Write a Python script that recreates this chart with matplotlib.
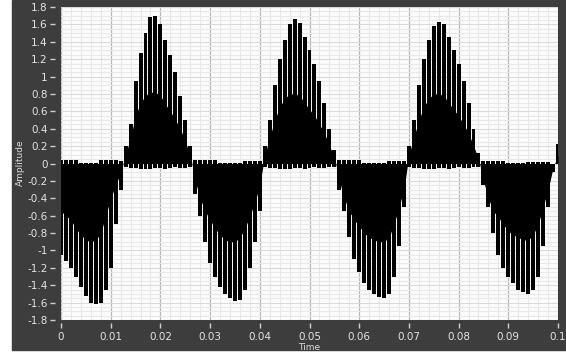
import numpy as np
import matplotlib
matplotlib.use("Agg")
import matplotlib.pyplot as plt
from matplotlib.patches import Rectangle
from matplotlib.ticker import MultipleLocator

# ==============================================================
# Data: one value per carrier cycle (1 ms)
# tip  = end of each spike, core = edge of the solid black body,
# rim  = small overshoot on the other side of zero
# ==============================================================
tip = [
    -1.05, -1.12, -1.2, -1.3, -1.42, -1.52, -1.6, -1.62, -1.6, -1.45, -1.2, -0.7, -0.3,
    0.2, 0.45, 0.95, 1.27, 1.5, 1.68, 1.7, 1.6, 1.42, 1.25, 1.05, 0.78, 0.5, 0.2,
    -0.35, -0.6, -0.9, -1.15, -1.3, -1.42, -1.5, -1.55, -1.58, -1.57, -1.45, -1.2, -0.9, -0.55,
    0.2, 0.5, 0.9, 1.2, 1.42, 1.6, 1.66, 1.62, 1.45, 1.3, 1.15, 0.95, 0.7, 0.4, 0.15,
    -0.3, -0.55, -0.85, -1.1, -1.25, -1.38, -1.45, -1.5, -1.53, -1.55, -1.5, -1.3, -0.95, -0.5,
    0.2, 0.5, 0.9, 1.2, 1.42, 1.58, 1.63, 1.6, 1.45, 1.3, 1.15, 0.95, 0.7, 0.4, 0.12,
    -0.25, -0.5, -0.8, -1.05, -1.2, -1.3, -1.38, -1.45, -1.48, -1.5, -1.45, -1.3, -0.95, -0.5, -0.1, 0.22,
]
core = [
    -0.55, -0.6, -0.65, -0.75, -0.82, -0.88, -0.9, -0.88, -0.8, -0.6, -0.4, -0.25, -0.1,
    0.1, 0.3, 0.55, 0.7, 0.78, 0.82, 0.82, 0.78, 0.68, 0.6, 0.5, 0.4, 0.25, 0.1,
    -0.2, -0.4, -0.55, -0.65, -0.75, -0.82, -0.88, -0.9, -0.9, -0.85, -0.75, -0.6, -0.45, -0.25,
    0.1, 0.3, 0.5, 0.65, 0.75, 0.8, 0.8, 0.78, 0.7, 0.62, 0.55, 0.45, 0.35, 0.2, 0.08,
    -0.2, -0.4, -0.55, -0.65, -0.72, -0.8, -0.85, -0.88, -0.9, -0.9, -0.85, -0.7, -0.5, -0.3,
    0.1, 0.3, 0.5, 0.65, 0.75, 0.8, 0.8, 0.78, 0.7, 0.62, 0.55, 0.45, 0.35, 0.2, 0.06,
    -0.2, -0.4, -0.55, -0.62, -0.7, -0.78, -0.82, -0.85, -0.88, -0.88, -0.82, -0.7, -0.5, -0.3, -0.05, 0.1,
]
rim = [
    0.04, 0.04, 0.04, 0.04, 0.01, 0.01, 0.01, 0.01, 0.04, 0.04, 0.04, 0.04, 0.03,
    -0.04, -0.05, -0.05, -0.06, -0.06, -0.06, -0.05, -0.05, -0.06, -0.05, -0.04, -0.05, -0.05, -0.04,
    0.04, 0.04, 0.04, 0.04, 0.04, 0.01, 0.01, 0.01, 0.01, 0.01, 0.03, 0.03, 0.03, 0.03,
    -0.04, -0.05, -0.05, -0.06, -0.06, -0.06, -0.05, -0.05, -0.06, -0.05, -0.04, -0.05, -0.05, -0.04, -0.04,
    0.04, 0.04, 0.04, 0.04, 0.04, 0.01, 0.01, 0.01, 0.01, 0.01, 0.03, 0.03, 0.03, 0.03,
    -0.04, -0.05, -0.05, -0.06, -0.06, -0.06, -0.05, -0.05, -0.06, -0.05, -0.04, -0.05, -0.05, -0.04, -0.04,
    0.03, 0.03, 0.03, 0.03, 0.03, 0.01, 0.01, 0.01, 0.01, 0.02, 0.02, 0.02, 0.02, 0.02, 0.0, 0.0,
]
dt = 0.001  # carrier period (s)
t = np.arange(len(tip)) * dt

x_ticks = [0, 0.01, 0.02, 0.03, 0.04, 0.05, 0.06, 0.07, 0.08, 0.09, 0.1]
x_labels = ["0", "0.01", "0.02", "0.03", "0.04", "0.05", "0.06", "0.07", "0.08", "0.09", "0.1"]
y_ticks = [1.8, 1.6, 1.4, 1.2, 1, 0.8, 0.6, 0.4, 0.2, 0, -0.2, -0.4, -0.6, -0.8,
           -1, -1.2, -1.4, -1.6, -1.8]
y_labels = ["1.8", "1.6", "1.4", "1.2", "1", "0.8", "0.6", "0.4", "0.2", "0", "-0.2",
            "-0.4", "-0.6", "-0.8", "-1", "-1.2", "-1.4", "-1.6", "-1.8"]

# ==============================================================
# Figure
# ==============================================================
W, H = 566, 352
fig = plt.figure(figsize=(W / 100, H / 100), dpi=100)
fig.patch.set_facecolor("white")
fig.patches.append(Rectangle((12 / W, 2 / H), 554 / W, 350 / H,
                             transform=fig.transFigure, color="#3d3d3d", zorder=-10))

ax = fig.add_axes([61 / W, 32 / H, 497 / W, 313 / H])
ax.set_zorder(5)
ax.set_facecolor("#fcfcfc")
for s in ax.spines.values():
    s.set_visible(False)
ax.spines["left"].set_position(("outward", 4))
ax.spines["bottom"].set_position(("outward", 2))

ax.set_xlim(0, 0.1)
ax.set_ylim(-1.8, 1.8)
ax.set_xticks(x_ticks, x_labels)
ax.set_yticks(y_ticks, y_labels)
ax.xaxis.set_minor_locator(MultipleLocator(0.002))
ax.yaxis.set_minor_locator(MultipleLocator(0.05))

ax.tick_params(which="major", colors="#d0d0d0", labelcolor="#e4e4e4",
               length=3.5, width=1, labelsize=7.5)
ax.tick_params(axis="x", which="major", pad=3)
ax.tick_params(axis="y", which="major", pad=2)
ax.tick_params(which="minor", length=0)

ax.set_axisbelow(True)
ax.grid(which="minor", color="#e8e8e8", lw=0.8)
ax.grid(which="major", axis="y", color="#dadada", lw=0.8)
ax.grid(which="major", axis="x", color="#b8b8b8", lw=0.9)

# signal: solid body plus the individual spikes with thin gaps between them
ax.fill_between(t, 0, core, color="black", lw=0, zorder=3)
ax.bar(t, np.array(tip) - np.array(rim), bottom=rim, width=0.8 * dt,
       color="black", lw=0, zorder=3)

fig.text(20 / W, 1 - 163 / H, "Amplitude", rotation=90, ha="center", va="center",
         fontsize=6.5, color="#dcdcdc")
fig.text(309 / W, 1 - 347 / H, "Time", ha="center", va="center",
         fontsize=6.5, color="#dcdcdc")

fig.savefig("out.png", dpi=100)
